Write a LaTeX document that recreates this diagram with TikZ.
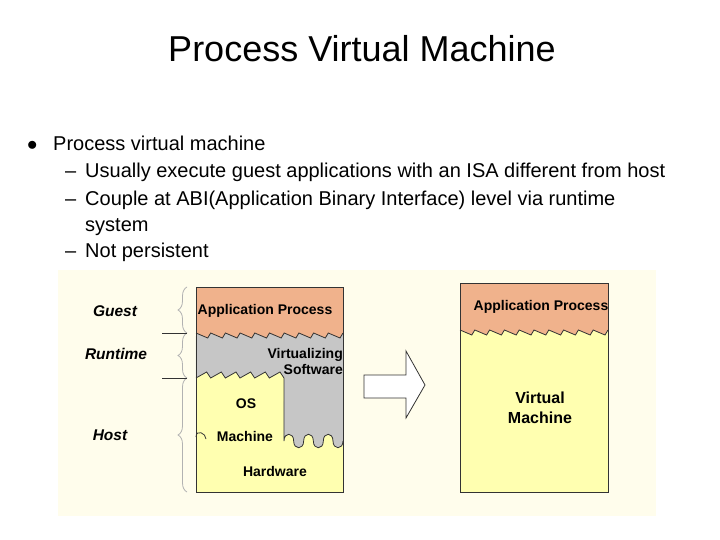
\documentclass[tikz,border=0pt]{standalone}
\usepackage{fontspec}
\setmainfont{Liberation Sans}
\usetikzlibrary{decorations.pathreplacing}
\definecolor{ColBg}{RGB}{255,253,236}
\definecolor{ColApp}{RGB}{240,178,140}
\definecolor{ColSoft}{RGB}{198,198,198}
\definecolor{ColHw}{RGB}{255,255,176}
\tikzstyle{Title}=[font=\fontsize{36}{40}\selectfont,anchor=base]
\tikzstyle{Item}=[font=\fontsize{20}{22}\selectfont,anchor=base west,inner sep=0pt]
\tikzstyle{Lab}=[font=\fontsize{14}{16}\selectfont\bfseries,inner sep=0pt]
\tikzstyle{Side}=[font=\fontsize{15.5}{17}\selectfont\bfseries\itshape,inner sep=0pt]
\tikzstyle{Brace}=[decorate,decoration={brace,amplitude=9pt},gray!60,line width=.8pt]
\tikzstyle{Edge}=[black!80,line width=.8pt]
\begin{document}
\begin{tikzpicture}[x=1pt,y=-1pt]
        \useasboundingbox(0,0)rectangle(720,540);
        \node[Title](title)at(362,62){Process Virtual Machine};
        \node[Item](b0)at(27,151){$\bullet$};
        \node[Item](t0)at(53,151){Process virtual machine};
        \node[Item](d1)at(65,178){--};
        \node[Item](t1)at(85,178){Usually execute guest applications with an ISA different from host};
        \node[Item](d2)at(65,206){--};
        \node[Item](t2)at(85,206){Couple at ABI(Application Binary Interface) level via runtime};
        \node[Item](t3)at(85,231){system};
        \node[Item](d4)at(65,258){--};
        \node[Item](t4)at(85,258){Not persistent};
        % panel
        \fill[ColBg](58,270)rectangle(656,516);
        % left stack
        \fill[ColHw](196,287)rectangle(343,492);
        \fill[ColSoft](196,330)--(343,330)--(343,441)
          \foreach \i in {1,...,3}{.. controls ++(0,9) and ++(0,9) .. ++(-10,0)
            .. controls ++(0,-9) and ++(0,-9) .. ++(-9.67,0)} --(284,378)
          \foreach \i in {1,...,6}{--++(-4,-6)--++(-10.67,6)} --cycle;
        \fill[ColApp](196,287)--(343,287)--(343,333)
          \foreach \i in {1,...,10}{--++(-3,5)--++(-11.7,-5)} --cycle;
        \draw[Edge](343,333)\foreach \i in {1,...,10}{--++(-3,5)--++(-11.7,-5)};
        \draw[Edge](284,378)\foreach \i in {1,...,6}{--++(-4,-6)--++(-10.67,6)};
        \draw[Edge](343,441)
          \foreach \i in {1,...,3}{.. controls ++(0,9) and ++(0,9) .. ++(-10,0)
            .. controls ++(0,-9) and ++(0,-9) .. ++(-9.67,0)} --(284,378);
        \draw[Edge](196,437).. controls ++(0,-8) and ++(0,-6) .. ++(10,2);
        \draw[Edge](196,287)rectangle(343,492);
        \node[Lab](app)at(265,311){Application Process};
        \node[Lab,align=right,anchor=east](soft)at(343,361){Virtualizing\\Software};
        \node[Lab](os)at(246,404){OS};
        \node[Lab](mach)at(245,436){Machine};
        \node[Lab](hw)at(275,471){Hardware};
        % braces
        \draw[Brace](187,333)--(187,287);
        \draw[Brace](187,378)--(187,333);
        \draw[Brace](187,492)--(187,378);
        \draw[Edge,thin](162,333)--(187,333);
        \draw[Edge,thin](162,378)--(187,378);
        \node[Side](guest)at(115,311){Guest};
        \node[Side](runtime)at(116,354){Runtime};
        \node[Side](host)at(110,435){Host};
        % arrow
        \draw[Edge,fill=white](364,375)--(406,375)--(406,351)--(425,385)--(406,418)--(406,398)--(364,398)--cycle;
        % right box
        \fill[ColHw](460,283)rectangle(608,492);
        \fill[ColApp](460,283)--(608,283)--(608,330)
          \foreach \i in {1,...,10}{--++(-3,5)--++(-11.8,-5)} --cycle;
        \draw[Edge](608,330)\foreach \i in {1,...,10}{--++(-3,5)--++(-11.8,-5)};
        \draw[Edge](460,283)rectangle(608,492);
        \node[Lab](app2)at(541,307){Application Process};
        \node[Lab,align=center,font=\fontsize{16}{20}\selectfont\bfseries](vm)at(540,408){Virtual\\Machine};
    \end{tikzpicture}
\end{document}
